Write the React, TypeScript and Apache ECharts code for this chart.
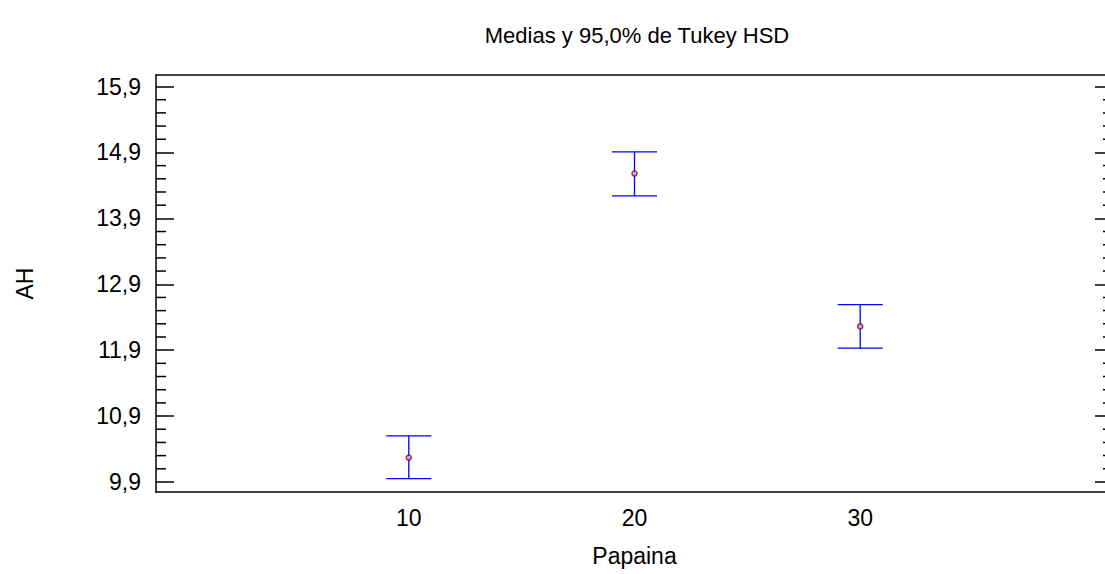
import React, { useEffect, useRef } from "react";
import * as echarts from "echarts";

const categories = [10, 20, 30];
const means = [10.27, 14.58, 12.26];
const lower = [9.95, 14.24, 11.93];
const upper = [10.6, 14.91, 12.59];
const yTicks = [9.9, 10.9, 11.9, 12.9, 13.9, 14.9, 15.9];
const yMinorTicks = [
  10.1, 10.3, 10.5, 10.7, 11.1, 11.3, 11.5, 11.7, 12.1, 12.3, 12.5, 12.7,
  13.1, 13.3, 13.5, 13.7, 14.1, 14.3, 14.5, 14.7, 15.1, 15.3, 15.5, 15.7,
];
const title = "Medias y 95,0% de Tukey HSD";
const xName = "Papaina";
const yName = "AH";

const FONT = "'Liberation Sans', Arial, sans-serif";
const Y_MIN = 9.748;
const Y_MAX = 16.075;
const X_MIN = -1.2;
const X_MAX = 41.2;

export default function App() {
  const ref = useRef<HTMLDivElement>(null);
  useEffect(() => {
    document.body.style.margin = "0";
    document.body.style.overflow = "hidden";
    document.documentElement.style.overflow = "hidden";
    const chart = echarts.init(ref.current!, null, { renderer: "svg" });
    const fmt = (v: number) => v.toFixed(1).replace(".", ",");
    const yBase = {
      type: "value",
      min: Y_MIN,
      max: Y_MAX,
      splitLine: { show: false },
      axisLine: { show: true, onZero: false, lineStyle: { color: "#000", width: 1.5 } },
    };
    const option: any = {
      animation: false,
      backgroundColor: "#fff",
      title: {
        text: title,
        left: 632,
        top: 19,
        textAlign: "center",
        textStyle: { fontFamily: FONT, fontSize: 22, fontWeight: "normal", color: "#000" },
      },
      grid: { left: 156, top: 75, width: 957, height: 417, containLabel: false },
      xAxis: [
        {
          type: "value",
          min: X_MIN,
          max: X_MAX,
          position: "bottom",
          name: xName,
          nameLocation: "middle",
          nameGap: 52,
          nameTextStyle: { fontFamily: FONT, fontSize: 23, color: "#000" },
          splitLine: { show: false },
          axisLine: { show: true, onZero: false, lineStyle: { color: "#000", width: 1.5 } },
          axisTick: { show: false },
          axisLabel: {
            customValues: categories,
            fontFamily: FONT,
            fontSize: 23,
            color: "#000",
            margin: 14,
            formatter: (v: number) => String(v),
          },
        },
        {
          type: "value",
          min: X_MIN,
          max: X_MAX,
          position: "top",
          splitLine: { show: false },
          axisLine: { show: true, onZero: false, lineStyle: { color: "#000", width: 1.5 } },
          axisTick: { show: false },
          axisLabel: { show: false },
        },
      ],
      yAxis: [
        {
          ...yBase,
          position: "left",
          name: yName,
          nameLocation: "middle",
          nameGap: 120,
          nameRotate: 90,
          nameTextStyle: { fontFamily: FONT, fontSize: 23, color: "#000" },
          axisTick: {
            show: true,
            inside: true,
            length: 18,
            customValues: yTicks,
            lineStyle: { color: "#000", width: 1.5 },
          },
          axisLabel: {
            customValues: yTicks,
            fontFamily: FONT,
            fontSize: 23,
            color: "#000",
            margin: 15,
            formatter: fmt,
          },
        },
        {
          ...yBase,
          position: "right",
          axisTick: {
            show: true,
            inside: true,
            length: 18,
            customValues: yTicks,
            lineStyle: { color: "#000", width: 1.5 },
          },
          axisLabel: { show: false },
        },
      ],
      series: [
        {
          type: "custom",
          xAxisIndex: 0,
          yAxisIndex: 0,
          data: yMinorTicks.map((v) => [X_MIN, v]),
          silent: true,
          renderItem: (params: any, api: any) => {
            const p = api.coord([api.value(0), api.value(1)]);
            const cs = params.coordSys;
            const l = cs.x;
            const r = cs.x + cs.width;
            const style = { stroke: "#000", lineWidth: 1.5 };
            return {
              type: "group",
              children: [
                { type: "line", shape: { x1: l, y1: p[1], x2: l + 10, y2: p[1] }, style },
                { type: "line", shape: { x1: r - 10, y1: p[1], x2: r, y2: p[1] }, style },
              ],
            };
          },
          z: 1,
        },
        {
          type: "custom",
          xAxisIndex: 0,
          yAxisIndex: 0,
          data: categories.map((c, i) => [c, lower[i], upper[i]]),
          renderItem: (params: any, api: any) => {
            const x = api.value(0);
            const lo = api.coord([x, api.value(1)]);
            const hi = api.coord([x, api.value(2)]);
            const hw = 22.5;
            const style = { stroke: "#0000ff", lineWidth: 1.3 };
            return {
              type: "group",
              children: [
                { type: "line", shape: { x1: lo[0], y1: lo[1], x2: hi[0], y2: hi[1] }, style },
                { type: "line", shape: { x1: lo[0] - hw, y1: lo[1], x2: lo[0] + hw, y2: lo[1] }, style },
                { type: "line", shape: { x1: hi[0] - hw, y1: hi[1], x2: hi[0] + hw, y2: hi[1] }, style },
              ],
            };
          },
          z: 2,
        },
        {
          type: "scatter",
          xAxisIndex: 0,
          yAxisIndex: 0,
          data: categories.map((c, i) => [c, means[i]]),
          symbol: "circle",
          symbolSize: 5,
          itemStyle: { color: "#e8c0d8", borderColor: "#800040", borderWidth: 1.6 },
          z: 3,
        },
      ],
    };
    chart.setOption(option);
    return () => chart.dispose();
  }, []);
  return <div ref={ref} style={{ width: 1130, height: 574 }} />;
}
